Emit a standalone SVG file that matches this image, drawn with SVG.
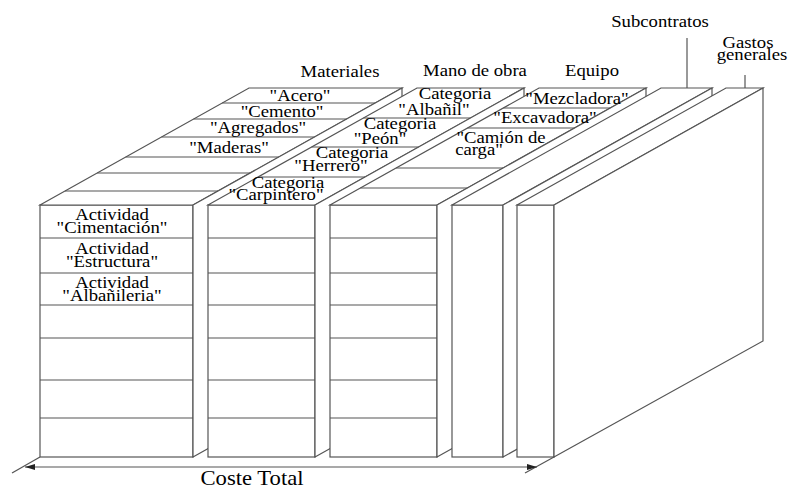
<svg xmlns="http://www.w3.org/2000/svg" width="788" height="491" viewBox="0 0 788 491">
<style>
.f{fill:#fff;stroke:#555;stroke-width:1.2;stroke-linejoin:miter}
.l{stroke:#555;stroke-width:1.2;fill:none}
text{font-family:'Liberation Serif','DejaVu Serif','Times New Roman',serif;font-size:17px;fill:#000;text-anchor:middle}
.big{font-size:21px}
</style>
<defs>
<marker id="ah" viewBox="0 0 10 6" refX="10" refY="3" markerWidth="10" markerHeight="6" markerUnits="userSpaceOnUse" orient="auto-start-reverse">
<path d="M0,0 L10,3 L0,6 Z" fill="#222"/>
</marker>
</defs>
<rect width="788" height="491" fill="#fff"/>

<g id="materiales">
<rect class="f" x="40" y="205" width="153" height="252"/>
<polygon class="f" points="40,205 249,88 402,88 193,205"/>
<polygon class="f" points="193,205 402,88 402,340 193,457"/>
<path class="l" d="M222.2,103H375.2M193.6,119H346.6M161.5,137H314.5M125.7,157H278.7M97.2,173H250.2M65,191H218"/>
<path class="l" d="M40,238H193M40,273H193M40,305H193M40,338H193M40,380H193M40,418H193"/>
<text transform="translate(300,101) scale(1.1,1)">"Acero"</text>
<text transform="translate(282,116.5) scale(1.1,1)">"Cemento"</text>
<text transform="translate(258,133) scale(1.1,1)">"Agregados"</text>
<text transform="translate(229,152.5) scale(1.1,1)">"Maderas"</text>
<text transform="translate(112,220) scale(1.1,1)">Actividad</text>
<text transform="translate(112,233) scale(1.1,1)">"Cimentación"</text>
<text transform="translate(112,254) scale(1.1,1)">Actividad</text>
<text transform="translate(112,266.5) scale(1.1,1)">"Estructura"</text>
<text transform="translate(112,288) scale(1.1,1)">Actividad</text>
<text transform="translate(112,300.5) scale(1.1,1)">"Albañileria"</text>
<text transform="translate(340,77) scale(1.1,1)">Materiales</text>
</g>

<g id="mano-de-obra">
<rect class="f" x="208" y="205" width="107" height="252"/>
<polygon class="f" points="208,205 417,88 524,88 315,205"/>
<polygon class="f" points="315,205 524,88 524,340 315,457"/>
<path class="l" d="M363.4,118H470.4M311.6,147H418.6M258,177H365"/>
<path class="l" d="M208,238H315M208,273H315M208,305H315M208,338H315M208,380H315M208,418H315"/>
<text transform="translate(455,99) scale(1.1,1)">Categoria</text>
<text transform="translate(434,115) scale(1.1,1)">"Albañil"</text>
<text transform="translate(400,129) scale(1.1,1)">Categoria</text>
<text transform="translate(380,144) scale(1.1,1)">"Peón"</text>
<text transform="translate(352,158) scale(1.1,1)">Categoria</text>
<text transform="translate(331,171) scale(1.1,1)">"Herrero"</text>
<text transform="translate(288,188) scale(1.1,1)">Categoria</text>
<text transform="translate(276,199.5) scale(1.1,1)">"Carpintero"</text>
<text transform="translate(475,76) scale(1.1,1)">Mano de obra</text>
</g>

<g id="equipo">
<rect class="f" x="330" y="205" width="107" height="252"/>
<polygon class="f" points="330,205 539,88 646,88 437,205"/>
<polygon class="f" points="437,205 646,88 646,340 437,457"/>
<path class="l" d="M503.3,108H610.3M467.5,128H574.5M396.1,168H503.1M360.4,188H467.4"/>
<path class="l" d="M330,238H437M330,273H437M330,305H437M330,338H437M330,380H437M330,418H437"/>
<text transform="translate(577,103.5) scale(1.1,1)">"Mezcladora"</text>
<text transform="translate(545,122.5) scale(1.1,1)">"Excavadora"</text>
<text transform="translate(501,143) scale(1.1,1)">"Camión de</text>
<text transform="translate(479,155) scale(1.1,1)">carga"</text>
<text transform="translate(592,76) scale(1.1,1)">Equipo</text>
</g>

<g id="subcontratos">
<rect class="f" x="452" y="205" width="51" height="252"/>
<polygon class="f" points="452,205 661,88 712,88 503,205"/>
<polygon class="f" points="503,205 712,88 712,340 503,457"/>
<text transform="translate(660,27) scale(1.1,1)">Subcontratos</text>
</g>

<g id="gastos-generales">
<rect class="f" x="517" y="205" width="37" height="252"/>
<polygon class="f" points="517,205 726,88 763,88 554,205"/>
<polygon class="f" points="554,205 763,88 763,341 554,457"/>
<text transform="translate(748,48) scale(1.1,1)">Gastos</text>
<text transform="translate(752,60) scale(1.1,1)">generales</text>
</g>

<g id="connectors">
<line class="l" x1="40" y1="457" x2="12" y2="473"/>
<line class="l" x1="554" y1="457" x2="525" y2="473"/>
<line class="l" x1="25" y1="467" x2="537" y2="467" marker-start="url(#ah)" marker-end="url(#ah)"/>
<line class="l" x1="687" y1="38" x2="687" y2="88"/>
<line class="l" x1="745" y1="75" x2="745" y2="88"/>
<text class="big" transform="translate(252,485) scale(1.08,1)">Coste Total</text>
</g>
</svg>
